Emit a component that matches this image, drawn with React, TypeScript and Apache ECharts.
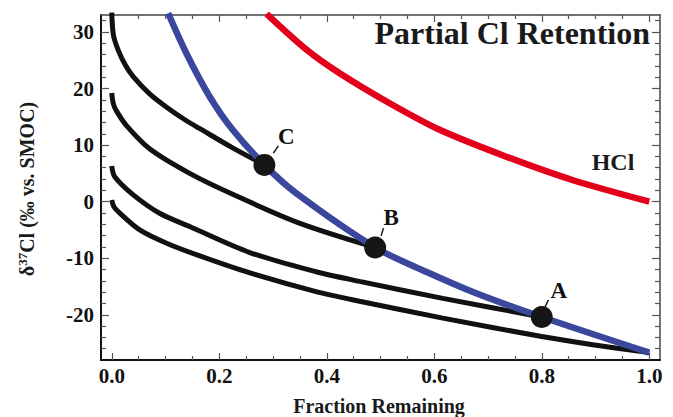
import React, { useEffect, useRef } from 'react';
import * as echarts from 'echarts';

const FONT = '"Liberation Serif", "Times New Roman", serif';

// Curves: [fraction remaining, delta37Cl]
const black1: [number, number][] = [
  [0, 33.5], [0.003, 29.5], [0.012, 26.8], [0.025, 24.2], [0.04, 22.1], [0.071, 19.0],
  [0.102, 16.7], [0.139, 14.3], [0.164, 12.9], [0.225, 9.5], [0.284, 6.5],
];
const black2: [number, number][] = [
  [0, 19.2], [0.003, 17.3], [0.009, 16.0], [0.027, 13.5], [0.071, 9.3], [0.145, 5.0],
  [0.225, 1.3], [0.349, -3.8], [0.49, -8.1],
];
const black3: [number, number][] = [
  [0, 6.3], [0.0056, 4.4], [0.04, 1.2], [0.089, -2.05], [0.145, -4.4], [0.257, -9.0],
  [0.38, -12.4], [0.461, -14.1], [0.616, -17.1], [0.8, -20.4],
];
const black4: [number, number][] = [
  [0, 0.3], [0.004, -0.9], [0.015, -2.05], [0.052, -5.0], [0.102, -7.35], [0.164, -9.6],
  [0.257, -12.6], [0.38, -15.9], [0.461, -17.6], [0.616, -20.6], [0.8, -23.85],
  [0.895, -25.3], [1.0, -26.7],
];
const blueCurve: [number, number][] = [
  [0.105, 33.3], [0.139, 26.2], [0.182, 18.6], [0.225, 12.7], [0.284, 6.5], [0.343, 1.5],
  [0.49, -8.1], [0.585, -12.4], [0.678, -16.2], [0.8, -20.4], [1.0, -26.7],
];
const hclCurve: [number, number][] = [
  [0.288, 33.2], [0.362, 26.9], [0.424, 22.7], [0.517, 17.4], [0.61, 12.7], [0.734, 7.95],
  [0.857, 3.83], [1.0, 0],
];
const pointNames = ['A', 'B', 'C'];
const pointValues: [number, number][] = [[0.8, -20.4], [0.49, -8.1], [0.284, 6.5]];

const xMajor = [0, 0.2, 0.4, 0.6, 0.8, 1.0];
const xMinor = [0.05, 0.1, 0.15, 0.25, 0.3, 0.35, 0.45, 0.5, 0.55, 0.65, 0.7, 0.75, 0.85, 0.9, 0.95];
const yMajor = [-20, -10, 0, 10, 20, 30];
const yMinor = [-26, -24, -22, -18, -16, -14, -12, -8, -6, -4, -2, 2, 4, 6, 8, 12, 14, 16, 18, 22, 24, 26, 28, 32];

// label placement relative to marker centre (pixels): label centre, leader start, leader end
const labelStyle: Record<string, { lx: number; ly: number; s: [number, number]; e: [number, number] }> = {
  A: { lx: 17, ly: -27, s: [3.3, -10], e: [6.6, -17] },
  B: { lx: 16, ly: -30, s: [6, -11.6], e: [8.3, -19.3] },
  C: { lx: 22, ly: -28, s: [9, -11.7], e: [14, -19] },
};

const X_MIN = -0.02, X_MAX = 1.02, Y_MIN = -28, Y_MAX = 33;

function xAxisDef(position: 'top' | 'bottom', values: number[], len: number, showLine: boolean, showLabel: boolean, lineWidth: number) {
  return {
    type: 'value', position, min: X_MIN, max: X_MAX,
    splitLine: { show: false },
    axisLine: { show: showLine, onZero: false, lineStyle: { color: position === 'bottom' ? '#111' : '#444', width: lineWidth } },
    axisTick: { show: true, inside: true, length: len, customValues: values, lineStyle: { color: '#555', width: 1.2 } },
    axisLabel: {
      show: showLabel, customValues: values, margin: 5, color: '#111', fontFamily: FONT, fontWeight: 'bold', fontSize: 21,
      formatter: (v: number) => v.toFixed(1),
    },
  };
}
function yAxisDef(position: 'left' | 'right', values: number[], len: number, showLine: boolean, showLabel: boolean, lineWidth: number) {
  return {
    type: 'value', position, min: Y_MIN, max: Y_MAX,
    splitLine: { show: false },
    axisLine: { show: showLine, onZero: false, lineStyle: { color: position === 'left' ? '#111' : '#444', width: lineWidth } },
    axisTick: { show: true, inside: true, length: len, customValues: values, lineStyle: { color: '#555', width: 1.2 } },
    axisLabel: {
      show: showLabel, customValues: values, margin: 7, color: '#111', fontFamily: FONT, fontWeight: 'bold', fontSize: 21,
      formatter: (v: number) => String(v),
    },
  };
}

function lineSeries(name: string, data: [number, number][], color: string, width: number, z: number) {
  return {
    name, type: 'line', data, showSymbol: false, symbol: 'none', smooth: 0.3,
    lineStyle: { color, width, cap: 'butt' }, z, clip: true, silent: true,
  };
}

export default function App() {
  const ref = useRef<HTMLDivElement>(null);
  useEffect(() => {
    const chart = echarts.init(ref.current!, null, { renderer: 'svg' });
    const pointData = pointNames.map((n, i) => ({ name: n, value: pointValues[i] }));
    chart.setOption({
      animation: false,
      backgroundColor: '#fff',
      grid: { left: 101, top: 15, right: 13, bottom: 57, containLabel: false },
      xAxis: [
        xAxisDef('bottom', xMajor, 7, true, true, 2),
        xAxisDef('bottom', xMinor, 4, false, false, 2),
        xAxisDef('top', xMajor, 7, true, false, 1.5),
        xAxisDef('top', xMinor, 4, false, false, 1.5),
      ],
      yAxis: [
        yAxisDef('left', yMajor, 8, true, true, 2),
        yAxisDef('left', yMinor, 5, false, false, 2),
        yAxisDef('right', yMajor, 8, true, false, 1.5),
        yAxisDef('right', yMinor, 5, false, false, 1.5),
      ],
      series: [
        lineSeries('black1', black1, '#111', 5, 2),
        lineSeries('black2', black2, '#111', 5, 2),
        lineSeries('black3', black3, '#111', 5, 2),
        lineSeries('black4', black4, '#111', 5, 2),
        lineSeries('blue', blueCurve, '#3a479c', 6.5, 3),
        lineSeries('HCl', hclCurve, '#e3001b', 6.5, 3),
        {
          type: 'custom', z: 4, silent: true,
          data: pointData,
          renderItem: (params: any, api: any) => {
            const c = api.coord([api.value(0), api.value(1)]);
            const st = labelStyle[pointNames[params.dataIndex]];
            return {
              type: 'line',
              shape: { x1: c[0] + st.s[0], y1: c[1] + st.s[1], x2: c[0] + st.e[0], y2: c[1] + st.e[1] },
              style: { stroke: '#111', lineWidth: 1.5 },
            };
          },
        },
        {
          type: 'scatter', z: 5, silent: true,
          data: pointData.map((d) => {
            const st = labelStyle[d.name];
            return {
              ...d,
              label: { position: [11 + st.lx, 11 + st.ly] },
            };
          }),
          symbol: 'circle', symbolSize: 22,
          itemStyle: { color: '#161616', opacity: 1 },
          label: {
            show: true, formatter: '{b}', align: 'center', verticalAlign: 'middle',
            color: '#111', fontFamily: FONT, fontWeight: 'bold', fontSize: 23,
          },
        },
      ],
      graphic: [
        {
          type: 'text', right: 23, top: 17, z: 10,
          style: { text: 'Partial Cl Retention', fill: '#1a1a1a', font: `bold 32px ${FONT}` },
        },
        {
          type: 'text', x: 613, y: 162, z: 10,
          style: { text: 'HCl', fill: '#1a1a1a', font: `bold 24px ${FONT}`, align: 'center', verticalAlign: 'middle' },
        },
        {
          type: 'text', x: 379, y: 406, z: 10,
          style: { text: 'Fraction Remaining', fill: '#1a1a1a', font: `bold 20px ${FONT}`, align: 'center', verticalAlign: 'middle' },
        },
        {
          type: 'text', x: 27, y: 189, rotation: Math.PI / 2, z: 10,
          style: {
            text: '{a|δ}{s|37}{a|Cl (‰ vs. SMOC)}',
            align: 'center', verticalAlign: 'middle',
            rich: {
              a: { fontFamily: FONT, fontWeight: 'bold', fontSize: 20, fill: '#1a1a1a', color: '#1a1a1a', lineHeight: 22 },
              s: { fontFamily: FONT, fontWeight: 'bold', fontSize: 13, fill: '#1a1a1a', color: '#1a1a1a', verticalAlign: 'top', lineHeight: 13 },
            },
          },
        },
      ],
    });
    return () => chart.dispose();
  }, []);
  return (
    <div
      ref={ref}
      style={{ position: 'absolute', left: 0, top: 0, width: 673, height: 417, background: '#fff' }}
    />
  );
}
